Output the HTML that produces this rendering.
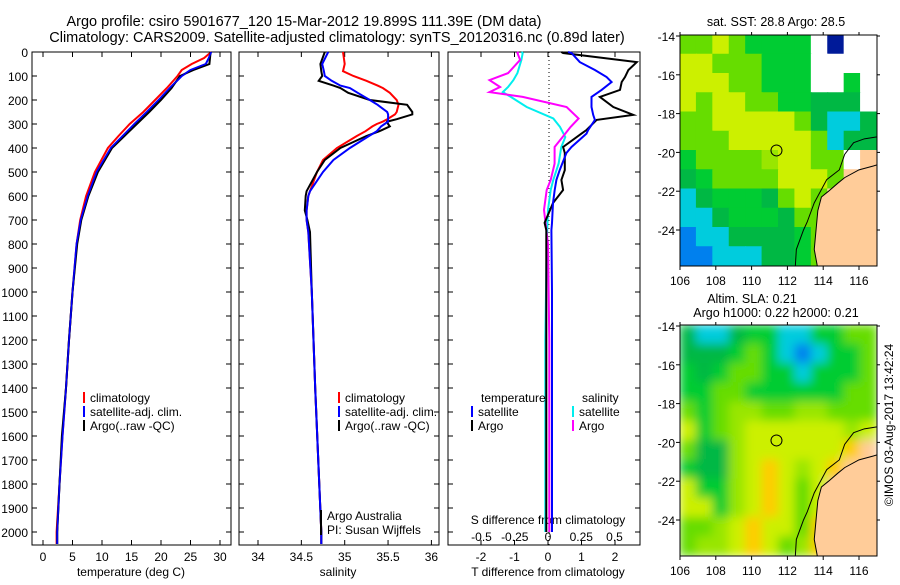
<!DOCTYPE html>
<html><head><meta charset="utf-8"><style>
body{margin:0;background:#fff;}
svg text{font-family:"Liberation Sans",sans-serif;fill:#000;}
</style></head><body>
<svg id="s" width="900" height="580" xmlns="http://www.w3.org/2000/svg">
<text x="304" y="26" font-size="14.5" text-anchor="middle">Argo profile: csiro 5901677_120 15-Mar-2012 19.899S 111.39E (DM data)</text>
<text x="337" y="42" font-size="14.5" text-anchor="middle">Climatology: CARS2009. Satellite-adjusted climatology: synTS_20120316.nc (0.89d later)</text>
</svg>
<script>
const depthTicks=[0,100,200,300,400,500,600,700,800,900,1000,1100,1200,1300,1400,1500,1600,1700,1800,1900,2000];
const tempTicks=[0,5,10,15,20,25,30];
const salTicks=[34,34.5,35,35.5,36];
const salTickLabels=['34','34.5','35','35.5','36'];
const tdTicks=[-2,-1,0,1,2];
const sdTicks=[-0.5,-0.25,0,0.25,0.5];
const tempDepth=[0,25,50,75,100,150,200,250,300,350,400,500,600,700,800,1000,1200,1400,1600,1800,2000,2050];
const tempClim=[28.5,27.3,25.2,23.5,22.8,21,19,17,14.7,12.8,11,8.8,7.3,6.3,5.7,5.0,4.4,3.9,3.3,2.8,2.3,2.3];
const tempSat=[28.5,28.1,27.6,25,23.5,21.5,19.6,17.6,15.5,13.5,11.5,9.1,7.6,6.4,5.7,5.0,4.4,3.9,3.3,2.8,2.4,2.4];
const tempArgo=[28.4,28.3,28.2,25.5,23.2,21.8,20.0,18.0,15.9,13.8,11.7,9.3,7.7,6.5,5.8,5.0,4.4,3.9,3.2,2.8,2.4,2.4];
const salDepth=[0,50,80,100,120,140,150,170,200,220,250,260,280,290,300,310,330,350,400,450,500,580,600,660,700,750,1000,1400,2000,2050];
const salClim=[34.98,35.0,34.98,35.1,35.25,35.38,35.44,35.52,35.6,35.62,35.6,35.58,35.49,35.44,35.37,35.32,35.24,35.14,34.91,34.75,34.68,34.6,34.58,34.56,34.56,34.58,34.62,34.66,34.73,34.73];
const salSat=[34.81,34.74,34.76,34.77,34.85,34.95,35.06,35.15,35.29,35.38,35.49,35.5,35.5,35.5,35.46,35.42,35.37,35.28,35.06,34.87,34.75,34.6,34.58,34.56,34.56,34.58,34.62,34.66,34.73,34.73];
const salArgo=[34.77,34.72,34.73,34.74,34.70,34.87,34.95,35.04,35.29,35.72,35.78,35.78,35.6,35.49,35.5,35.52,35.4,35.25,34.95,34.77,34.68,34.56,34.55,34.54,34.57,34.6,34.62,34.66,34.73,34.73];
const tdDepth=[0,4,42,75,104,125,158,187,229,262,283,325,340,396,421,492,533,575,629,712,742,1000,1500,2000];
const tdArgo=[0.4,0.45,2.65,2.4,2.3,2.2,2.15,1.55,1.95,2.55,1.45,1.15,1.0,0.45,0.5,0.5,0.4,0.45,0.15,-0.1,-0.05,-0.05,-0.05,-0.05];
const tdSat=[0.6,0.7,0.95,1.4,1.75,1.9,1.6,1.3,1.3,1.35,1.4,1.2,1.15,0.7,0.55,0.35,0.25,0.2,0.15,0.12,0.1,0.12,0.12,0.12];
const sdDepth=[0,4,33,88,117,146,167,187,229,277,312,354,396,465,533,575,658,800,1200,2000];
const sdArgo=[-0.22,-0.23,-0.21,-0.3,-0.44,-0.36,-0.44,-0.19,0.14,0.23,0.17,0.11,0.05,0.05,0.02,-0.01,-0.03,0.0,0.01,0.01];
const sdSat=[-0.2,-0.19,-0.2,-0.23,-0.26,-0.3,-0.34,-0.28,-0.16,0.04,0.09,0.13,0.1,0.08,0.04,0.02,0.0,-0.01,-0.02,-0.02];
const lonTicks=[106,108,110,112,114,116];
const latTicks=[-14,-16,-18,-20,-22,-24];
const argoLon=111.39, argoLat=-19.899;

const NS='http://www.w3.org/2000/svg';const S=document.getElementById('s');
function el(t,a,p){const e=document.createElementNS(NS,t);for(const k in a)e.setAttribute(k,a[k]);(p||S).appendChild(e);return e;}
function txt(x,y,s,fs,anc,p){const e=el('text',{x:x,y:y,'font-size':fs,'text-anchor':anc||'middle'},p);e.textContent=s;return e;}
const top0=52,bot=545;const yD=d=>top0+d*0.24;
function panel(name,x0,x1){const g=el('g',{});
 el('rect',{x:x0,y:top0,width:x1-x0,height:bot-top0,fill:'none',stroke:'#000','stroke-width':1},g);
 depthTicks.forEach(d=>{el('line',{x1:x0,x2:x0+5,y1:yD(d),y2:yD(d),stroke:'#000'},g);el('line',{x1:x1-5,x2:x1,y1:yD(d),y2:yD(d),stroke:'#000'},g);});return g;}
function xticks(g,ticks,xf,labels,ly){ticks.forEach((t,i)=>{const x=xf(t);el('line',{x1:x,x2:x,y1:top0,y2:top0+5,stroke:'#000'},g);el('line',{x1:x,x2:x,y1:bot-5,y2:bot,stroke:'#000'},g);
 if(labels){const e=txt(x,ly,labels[i],12,'middle',g);}});}
function line(g,xs,ds,xf,col,name,w){const pts=xs.map((v,i)=>xf(v).toFixed(1)+','+yD(Math.min(ds[i],2054)).toFixed(1)).join(' ');
 const p=el('polyline',{points:pts,fill:'none',stroke:col,'stroke-width':w||2},g);}
const dl=el('g',{});
depthTicks.forEach(d=>txt(28,yD(d)+5,String(d),12,'end',dl));
const xT=t=>43+t*5.9;
const g1=panel('temperature-panel',32,231);
xticks(g1,tempTicks,xT,tempTicks.map(String),561);
line(g1,tempClim,tempDepth,xT,'#f00','temp-climatology-line');
line(g1,tempSat,tempDepth,xT,'#00f','temp-satellite-line');
line(g1,tempArgo,tempDepth,xT,'#000','temp-argo-line');
line(g1,tempSat,tempDepth,xT,'#00f','temp-satellite-line-top',1.5);
txt(131,576,'temperature (deg C)',12,'middle',g1);
function legend(g,x,y,items){items.forEach((it,i)=>{el('line',{x1:x,x2:x,y1:y+i*14-10,y2:y+i*14+1,stroke:it[0],'stroke-width':2},g);txt(x+6,y+i*14,it[1],12,'start',g);});}
legend(g1,84,402,[['#f00','climatology'],['#00f','satellite-adj. clim.'],['#000','Argo(..raw -QC)']]);
const xS=s=>258+(s-34)*86.7;
const g2=panel('salinity-panel',239,439);
xticks(g2,salTicks,xS,salTickLabels,561);
line(g2,salClim,salDepth,xS,'#f00','sal-climatology-line');
line(g2,salArgo,salDepth,xS,'#000','sal-argo-line');
line(g2,salSat,salDepth,xS,'#00f','sal-satellite-line');
txt(338,576,'salinity',12,'middle',g2);
legend(g2,339,402,[['#f00','climatology'],['#00f','satellite-adj. clim.'],['#000','Argo(..raw -QC)']]);
el('line',{x1:321,x2:321,y1:536-26,y2:535,stroke:'#000','stroke-width':2},g2);
txt(327,520,'Argo Australia',12,'start',g2);txt(327,534,'PI: Susan Wijffels',12,'start',g2);
const xTd=t=>548+t*33.5, xSd=s=>548+s*133;
const g3=panel('difference-panel',448,640);
xticks(g3,tdTicks,xTd,tdTicks.map(String),561);
sdTicks.forEach(t=>txt(xSd(t),541,String(t),12,'middle',g3));
txt(548,524,'S difference from climatology',12,'middle',g3);
txt(548,576,'T difference from climatology',12,'middle',g3);
el('line',{x1:549,x2:549,y1:top0,y2:bot,stroke:'#000','stroke-dasharray':'1,3'},g3);
line(g3,sdSat,sdDepth,xSd,'#0ee','sdiff-satellite-line');
line(g3,sdArgo,sdDepth,xSd,'#f0f','sdiff-argo-line');
line(g3,tdArgo,tdDepth,xTd,'#000','tdiff-argo-line');
line(g3,tdSat,tdDepth,xTd,'#00f','tdiff-satellite-line');
txt(481,402,'temperature',12,'start',g3);txt(582,402,'salinity',12,'start',g3);
legend(g3,472,416,[['#00f','satellite'],['#000','Argo']]);
legend(g3,573,416,[['#0ee','satellite'],['#f0f','Argo']]);
const pal={Y:'#ccf000',L:'#66dd00',G:'#00cc33',D:'#00b844',C:'#00ccdd',B:'#0080ee',W:'#ffffff',N:'#001a99',S:'#ffcc99',O:'#ffcc00',E:'#99e600'};
const map1=['LLYLGGGGWNWW','YYLLLGGGWWWW','YYYLLGGGWWGW','YLYYLLGGDDDW','LLYYYYYLDCCD','LLLYYYYYLCDD','GLLLLEYYLLWS','DGLLLLYYYLSS','CDGGGDLYLSSS','CCDGGGDLLSSS','BCCDDDDGLSSS','BBCCCDDGLSSS'];
const map2=['DCCDGGCCGGLL','DDDGLGCBCGGL','GDGLLGGCGGGL','GGLLGGGGGGLL','LGLEELLEELLL','YGLEYYYYYYEY','LDDEYYYYYYOS','GDDEYOYEYOSS','YGGEYOYLYSSS','YYGEYOYLYSSS','LLEYOYYLOSSS','LEEYOYLEOSSS'];
function map(name,y0,grid,blur){const g=el('g',{});
 const x0=680,w=197,h=231;const lx=l=>x0+(l-106)*17.9, ly=l=>y0+1-(l+14)*19.4;
 el('clipPath',{id:'c'+y0},g);el('rect',{x:x0,y:y0,width:w,height:h},g.lastChild);
 const cg=el('g',{'clip-path':'url(#c'+y0+')'},g);const ig=el('g',blur?{filter:'url(#bl)'}:{},cg);
 const cw=w/12,ch=h/12;grid.forEach((r,i)=>[...r].forEach((c,j)=>el('rect',{x:x0+j*cw-0.5,y:y0+i*ch-0.5,width:cw+1,height:ch+1,fill:pal[c]},ig)));
 const land=[[117.5,-20.5],[116.8,-20.7],[116,-20.9],[115.2,-21.3],[114.8,-21.6],[114.3,-22],[113.9,-22.3],[113.7,-23],[113.6,-24],[113.5,-25],[113.8,-26.5],[117.5,-26.5]];
 el('polygon',{points:land.map(p=>lx(p[0])+','+ly(p[1])).join(' '),fill:'#fc9',stroke:'#000','stroke-width':1},cg);
 const shelf=[[117,-19.2],[116.3,-19.3],[115.7,-19.5],[115.2,-20.1],[114.9,-20.9],[114.2,-21.4],[113.5,-22.6],[113.1,-23.6],[112.9,-24],[112.5,-25],[112.4,-26.5]];
 el('polyline',{points:shelf.map(p=>lx(p[0])+','+ly(p[1])).join(' '),fill:'none',stroke:'#000','stroke-width':1},cg);
 el('circle',{cx:lx(argoLon),cy:ly(argoLat),r:5.5,fill:'none',stroke:'#000','stroke-width':1},g);
 el('rect',{x:x0,y:y0,width:w,height:h,fill:'none',stroke:'#000'},g);
 lonTicks.forEach(l=>{const x=lx(l);el('line',{x1:x,x2:x,y1:y0+h,y2:y0+h+4,stroke:'#000'},g);el('line',{x1:x,x2:x,y1:y0-3,y2:y0,stroke:'#000'},g);txt(x,y0+h+19,String(l),12,'middle',g);});
 latTicks.forEach(l=>{const y=ly(l);el('line',{x1:x0-4,x2:x0,y1:y,y2:y,stroke:'#000'},g);el('line',{x1:x0+w,x2:x0+w+3,y1:y,y2:y,stroke:'#000'},g);txt(675,y+5,String(l),12,'end',g);});
 return g;}
const defs=el('defs',{});const f=el('filter',{id:'bl'},defs);el('feGaussianBlur',{stdDeviation:5},f);
map('sst-map',35,map1,false);
map('sla-map',325,map2,true);
txt(776,26,'sat. SST: 28.8 Argo: 28.5',12.5,'middle');
txt(752,303,'Altim. SLA: 0.21',12.5,'middle');
txt(776,317,'Argo h1000: 0.22 h2000: 0.21',12.5,'middle');
const c=txt(0,0,'©IMOS 03-Aug-2017 13:42:24',12,'middle');c.setAttribute('transform','translate(893,425) rotate(-90)');

</script>
</body></html>
